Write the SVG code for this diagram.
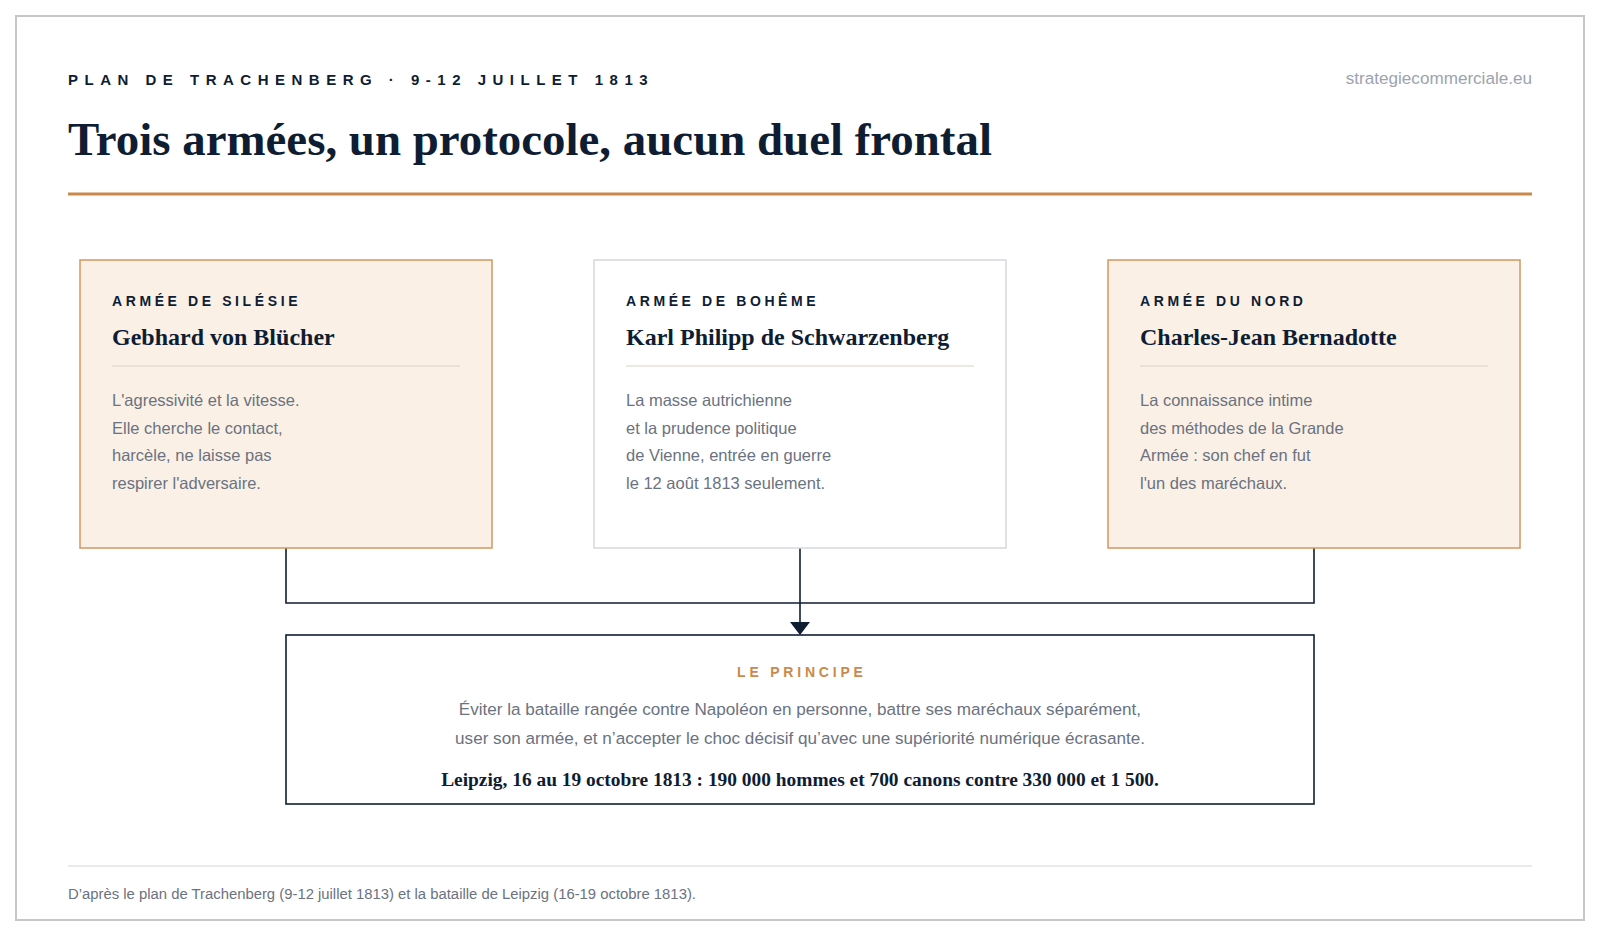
<svg xmlns="http://www.w3.org/2000/svg" width="1600" height="937" viewBox="0 0 1600 937">
<style>
.kicker{font-family:"Liberation Sans",Arial,sans-serif;font-weight:700;font-size:15px;letter-spacing:6.5px;fill:#0f1d32}
.title{font-family:"Liberation Serif","Times New Roman",serif;font-weight:700;font-size:46.9px;fill:#0f1d32}
.site{font-family:"Liberation Sans",Arial,sans-serif;font-size:17.1px;fill:#9ca3af}
.lbl{font-family:"Liberation Sans",Arial,sans-serif;font-weight:700;font-size:14px;letter-spacing:3.6px;fill:#0f1d32}
.name{font-family:"Liberation Serif","Times New Roman",serif;font-weight:700;font-size:24px;fill:#0f1d32}
.body{font-family:"Liberation Sans",Arial,sans-serif;font-size:16.5px;fill:#6b7280}
.warm{fill:#faf0e6;stroke:#d4975e;stroke-width:1.5}
.plain{fill:#ffffff;stroke:#d6d8dc;stroke-width:1.5}
.div{stroke:#d9d2ca;stroke-width:1.2}
.conn{fill:none;stroke:#0f1d32;stroke-width:1.6}
.plbl{font-family:"Liberation Sans",Arial,sans-serif;font-weight:700;font-size:14px;letter-spacing:3.8px;fill:#c98a4b}
.pbody{font-family:"Liberation Sans",Arial,sans-serif;font-size:17.1px;fill:#6b7280}
.pbold{font-family:"Liberation Serif","Times New Roman",serif;font-weight:700;font-size:19.4px;fill:#0f1d32}
.foot{font-family:"Liberation Sans",Arial,sans-serif;font-size:14.85px;fill:#6b7280}
</style>
<defs>
<marker id="arrow" viewBox="0 0 20 13" refX="10" refY="13" markerWidth="20" markerHeight="13" markerUnits="userSpaceOnUse" orient="auto-start-reverse">
<path d="M0,0 L20,0 L10,13 Z" fill="#0f1d32"/>
</marker>
</defs>
<rect x="0" y="0" width="1600" height="937" fill="#ffffff"/>
<rect x="16" y="16" width="1568" height="904" fill="#ffffff" stroke="#c4c8cd" stroke-width="2"/>

<g id="header">
<text class="kicker" x="68" y="84.5">PLAN DE TRACHENBERG · 9-12 JUILLET 1813</text>
<text class="site" x="1532" y="84" text-anchor="end">strategiecommerciale.eu</text>
<text class="title" x="68" y="155">Trois armées, un protocole, aucun duel frontal</text>
<line x1="68" y1="194" x2="1532" y2="194" stroke="#c98a4b" stroke-width="3"/>
</g>

<g id="connectors">
<path class="conn" d="M286,548 V603 H1314 V548"/>
<path class="conn" d="M800,548 V622"/>
<path d="M790,622 L810,622 L800,635 Z" fill="#0f1d32"/>
</g>

<g id="silesie">
<rect class="warm" x="80" y="260" width="412" height="288"/>
<text class="lbl" x="112" y="306">ARMÉE DE SILÉSIE</text>
<text class="name" x="112" y="345">Gebhard von Blücher</text>
<line class="div" x1="112" y1="366" x2="460" y2="366"/>
<text class="body" x="112" y="406">L'agressivité et la vitesse.</text>
<text class="body" x="112" y="433.5">Elle cherche le contact,</text>
<text class="body" x="112" y="461">harcèle, ne laisse pas</text>
<text class="body" x="112" y="488.5">respirer l'adversaire.</text>
</g>

<g id="boheme">
<rect class="plain" x="594" y="260" width="412" height="288"/>
<text class="lbl" x="626" y="306">ARMÉE DE BOHÊME</text>
<text class="name" x="626" y="345">Karl Philipp de Schwarzenberg</text>
<line class="div" x1="626" y1="366" x2="974" y2="366"/>
<text class="body" x="626" y="406">La masse autrichienne</text>
<text class="body" x="626" y="433.5">et la prudence politique</text>
<text class="body" x="626" y="461">de Vienne, entrée en guerre</text>
<text class="body" x="626" y="488.5">le 12 août 1813 seulement.</text>
</g>

<g id="nord">
<rect class="warm" x="1108" y="260" width="412" height="288"/>
<text class="lbl" x="1140" y="306">ARMÉE DU NORD</text>
<text class="name" x="1140" y="345">Charles-Jean Bernadotte</text>
<line class="div" x1="1140" y1="366" x2="1488" y2="366"/>
<text class="body" x="1140" y="406">La connaissance intime</text>
<text class="body" x="1140" y="433.5">des méthodes de la Grande</text>
<text class="body" x="1140" y="461">Armée : son chef en fut</text>
<text class="body" x="1140" y="488.5">l'un des maréchaux.</text>
</g>

<g id="principe">
<rect x="286" y="635" width="1028" height="169" fill="#ffffff" stroke="#0f1d32" stroke-width="1.6"/>
<text class="plbl" x="801.9" y="677" text-anchor="middle">LE PRINCIPE</text>
<text class="pbody" x="800" y="715" text-anchor="middle">Éviter la bataille rangée contre Napoléon en personne, battre ses maréchaux séparément,</text>
<text class="pbody" x="800" y="744" text-anchor="middle">user son armée, et n’accepter le choc décisif qu’avec une supériorité numérique écrasante.</text>
<text class="pbold" x="800" y="786" text-anchor="middle">Leipzig, 16 au 19 octobre 1813 : 190 000 hommes et 700 canons contre 330 000 et 1 500.</text>
</g>

<g id="footer">
<line x1="68" y1="866" x2="1532" y2="866" stroke="#e3e5e8" stroke-width="1.5"/>
<text class="foot" x="68" y="898.5">D’après le plan de Trachenberg (9-12 juillet 1813) et la bataille de Leipzig (16-19 octobre 1813).</text>
</g>
</svg>
